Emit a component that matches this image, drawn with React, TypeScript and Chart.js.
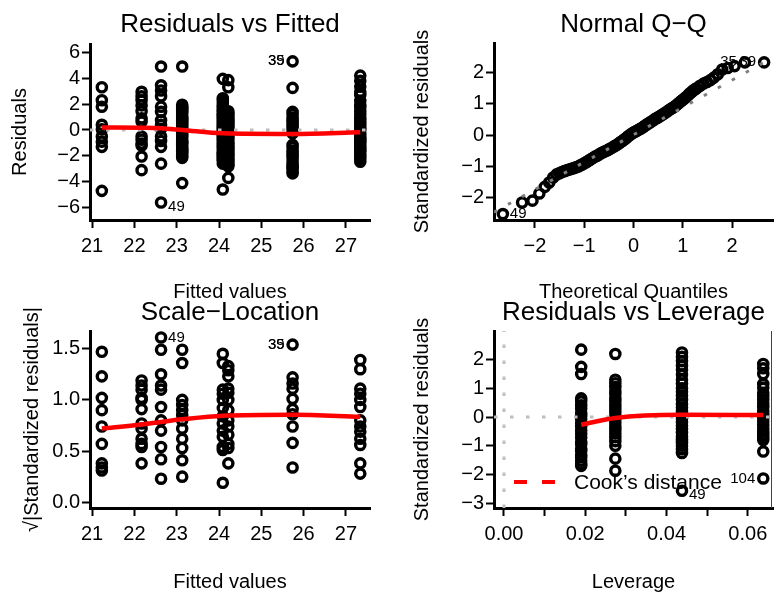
import React, { useEffect, useRef } from "react";
import { Chart, registerables } from "chart.js";

Chart.register(...registerables);

const FONT = '"Liberation Sans", Arial, Helvetica, sans-serif';
Chart.defaults.font.family = FONT;
Chart.defaults.color = "#000";

// ---------- Panel 1: Residuals vs Fitted ----------
const RVF_FITTED = [21.23, 22.17, 22.63, 23.13, 24.09, 24.22, 25.74, 27.34];
const RVF_RESID_2123 = [3.3, 2.3, 1.8, 0.4, 0.05, -0.5, -0.9, -1.3, -4.7];
const RVF_RESID_2217 = [2.95, 2.6, 2.3, 1.9, 1.45, 0.9, 0.65, -0.5, -0.75, -1.05, -1.2, -2.05, -3.1];
const RVF_RESID_2263 = [4.9, 3.45, 3.05, 2.6, 1.8, 1.4, 0.75, 0.4, 0.1, -0.5, -0.85, -1.3, -2.6, -5.6];
const RVF_RESID_2313 = [4.9, 1.95, 1.8, 1.7, 1.55, 1.45, 1.3, 1.1, 0.95, 0.85, 0.7, 0.6, 0.45, 0.35, 0.2, 0.05, -0.1, -0.2, -0.35, -0.45, -0.6, -0.8, -0.9, -1.0, -1.15, -1.3, -1.45, -1.55, -1.7, -1.8, -2.0, -2.15, -4.1];
const RVF_RESID_2409 = [3.95, 2.45, 2.3, 2.1, 1.9, 1.75, 1.55, 1.4, 1.25, 1.15, 1.0, 0.9, 0.75, 0.6, 0.45, 0.3, 0.15, 0.05, -0.1, -0.25, -0.4, -0.5, -0.65, -0.75, -0.9, -1.05, -1.2, -1.3, -1.45, -1.6, -1.75, -1.85, -2.0, -2.1, -2.25, -2.4, -2.6, -4.6];
const RVF_RESID_2422 = [3.85, 3.3, 1.45, 1.3, 1.2, 1.05, 0.95, 0.8, 0.7, 0.55, 0.45, 0.3, 0.15, 0.0, -0.1, -0.25, -0.35, -0.5, -0.6, -0.75, -0.9, -1.05, -1.15, -1.3, -1.4, -1.55, -1.7, -1.85, -1.95, -2.1, -2.25, -2.4, -2.55, -2.7, -2.8, -3.7];
const RVF_RESID_2574 = [5.3, 3.25, 1.4, 1.2, 0.95, 0.75, 0.6, 0.4, 0.25, 0.05, -0.25, -1.15, -1.35, -1.6, -1.8, -2.0, -2.2, -2.45, -2.7, -2.85, -3.0, -3.2, -3.35];
const RVF_RESID_2734 = [4.2, 3.8, 3.35, 2.95, 2.7, 2.25, 1.95, 1.75, 1.45, 1.2, 0.95, 0.8, 0.55, 0.4, 0.2, 0.0, -0.3, -0.5, -0.7, -0.85, -1.0, -1.2, -1.35, -1.55, -1.7, -1.9, -2.05, -2.25, -2.45];
const RVF_RESID = [RVF_RESID_2123, RVF_RESID_2217, RVF_RESID_2263, RVF_RESID_2313, RVF_RESID_2409, RVF_RESID_2422, RVF_RESID_2574, RVF_RESID_2734];
const RVF_SMOOTH_X = [21.23, 22.17, 22.63, 23.13, 24.09, 25.74, 27.34];
const RVF_SMOOTH_Y = [0.2, 0.17, 0.13, 0.0, -0.26, -0.31, -0.18];
const RVF_X_RANGE = [20.95, 27.57];
const RVF_Y_RANGE = [-6.95, 6.64];
const RVF_X_TICKS = [21, 22, 23, 24, 25, 26, 27];
const RVF_Y_TICKS = [-6, -4, -2, 0, 2, 4, 6];
const RVF_LABEL_TEXT = ["35", "39", "49"];
const RVF_LABEL_X = [25.74, 25.74, 22.63];
const RVF_LABEL_Y = [5.3, 5.3, -5.6];

// ---------- Panel 2: Normal Q-Q ----------
const QQ_THEORETICAL = [-2.65, -2.26, -2.05, -1.91, -1.8, -1.71, -1.63, -1.56, -1.5, -1.45, -1.41, -1.38, -1.34, -1.3, -1.26, -1.22, -1.18, -1.15, -1.11, -1.08, -1.04, -1.0, -0.96, -0.93, -0.89, -0.86, -0.82, -0.78, -0.74, -0.7, -0.66, -0.62, -0.59, -0.55, -0.51, -0.48, -0.44, -0.4, -0.37, -0.33, -0.29, -0.26, -0.22, -0.19, -0.15, -0.12, -0.08, -0.05, -0.01, 0.02, 0.06, 0.09, 0.13, 0.16, 0.2, 0.23, 0.27, 0.3, 0.34, 0.37, 0.41, 0.44, 0.48, 0.51, 0.55, 0.58, 0.62, 0.65, 0.69, 0.72, 0.76, 0.79, 0.83, 0.86, 0.9, 0.93, 0.97, 1.0, 1.04, 1.07, 1.11, 1.14, 1.18, 1.21, 1.25, 1.28, 1.35, 1.42, 1.49, 1.56, 1.63, 1.71, 1.8, 1.91, 2.05, 2.26, 2.65];
const QQ_STD_RESID = [-2.53, -2.16, -2.1, -1.87, -1.66, -1.52, -1.36, -1.26, -1.22, -1.18, -1.16, -1.14, -1.12, -1.1, -1.08, -1.06, -1.04, -1.02, -1.0, -0.97, -0.94, -0.9, -0.87, -0.84, -0.8, -0.77, -0.73, -0.69, -0.66, -0.62, -0.58, -0.55, -0.53, -0.5, -0.47, -0.44, -0.41, -0.37, -0.34, -0.3, -0.26, -0.22, -0.18, -0.14, -0.1, -0.05, -0.01, 0.03, 0.07, 0.1, 0.13, 0.16, 0.19, 0.22, 0.26, 0.3, 0.34, 0.37, 0.41, 0.44, 0.48, 0.52, 0.55, 0.58, 0.62, 0.65, 0.69, 0.72, 0.76, 0.8, 0.84, 0.87, 0.91, 0.95, 1.0, 1.04, 1.09, 1.13, 1.18, 1.22, 1.28, 1.33, 1.38, 1.43, 1.47, 1.5, 1.58, 1.65, 1.7, 1.76, 1.84, 1.95, 2.1, 2.15, 2.21, 2.33, 2.33];
const QQ_LINE_X = [-2.83, 2.83];
const QQ_LINE_Y = [-2.47, 2.49];
const QQ_X_RANGE = [-2.83, 2.83];
const QQ_Y_RANGE = [-2.72, 2.95];
const QQ_X_TICKS = [-2, -1, 0, 1, 2];
const QQ_Y_TICKS = [-2, -1, 0, 1, 2];
const QQ_LABEL_TEXT = ["49", "35", "39"];
const QQ_LABEL_X = [-2.65, 2.26, 2.65];
const QQ_LABEL_Y = [-2.53, 2.33, 2.33];

// ---------- Panel 3: Scale-Location ----------
const SL_FITTED = [21.23, 22.17, 22.63, 23.13, 24.09, 24.22, 25.74, 27.34];
const SL_ROOT_2123 = [1.47, 1.23, 1.02, 0.9, 0.74, 0.57, 0.38, 0.34, 0.31];
const SL_ROOT_2217 = [1.19, 1.14, 1.1, 1.02, 1.0, 0.91, 0.77, 0.72, 0.62, 0.57, 0.54, 0.38];
const SL_ROOT_2263 = [1.61, 1.49, 1.25, 1.14, 1.1, 0.93, 0.8, 0.7, 0.54, 0.42, 0.23];
const SL_ROOT_2313 = [1.49, 1.36, 1.0, 0.95, 0.9, 0.85, 0.8, 0.72, 0.62, 0.53, 0.41, 0.25];
const SL_ROOT_2409 = [1.45, 1.36, 1.1, 1.06, 1.0, 0.92, 0.84, 0.77, 0.7, 0.64, 0.54, 0.51, 0.19];
const SL_ROOT_2422 = [1.33, 1.29, 1.23, 1.11, 1.07, 1.0, 0.9, 0.8, 0.74, 0.66, 0.57, 0.53, 0.38];
const SL_ROOT_2574 = [1.54, 1.22, 1.16, 1.11, 1.01, 0.91, 0.86, 0.74, 0.58, 0.34];
const SL_ROOT_2734 = [1.39, 1.3, 1.11, 1.06, 1.0, 0.93, 0.8, 0.74, 0.69, 0.62, 0.56, 0.38, 0.28];
const SL_ROOT = [SL_ROOT_2123, SL_ROOT_2217, SL_ROOT_2263, SL_ROOT_2313, SL_ROOT_2409, SL_ROOT_2422, SL_ROOT_2574, SL_ROOT_2734];
const SL_SMOOTH_X = [21.23, 22.17, 22.63, 23.13, 24.09, 25.74, 27.34];
const SL_SMOOTH_Y = [0.72, 0.76, 0.785, 0.81, 0.845, 0.855, 0.835];
const SL_X_RANGE = [20.95, 27.57];
const SL_Y_RANGE = [-0.056, 1.673];
const SL_X_TICKS = [21, 22, 23, 24, 25, 26, 27];
const SL_Y_TICKS = [0, 0.5, 1, 1.5];
const SL_LABEL_TEXT = ["35", "39", "49"];
const SL_LABEL_X = [25.74, 25.74, 22.63];
const SL_LABEL_Y = [1.54, 1.54, 1.61];

// ---------- Panel 4: Residuals vs Leverage ----------
const RL_LEVERAGE = [0.019, 0.0274, 0.0438, 0.0638];
const RL_STD_0190 = [2.35, 1.75, 1.5, 0.65, 0.55, 0.41, 0.3, 0.15, 0.04, -0.08, -0.22, -0.33, -0.47, -0.58, -0.71, -0.86, -0.95, -1.1, -1.18, -1.31, -1.4, -1.52, -1.63, -1.7];
const RL_STD_0274 = [2.2, 1.3, 1.18, 1.05, 0.92, 0.8, 0.66, 0.55, 0.41, 0.3, 0.17, 0.05, -0.08, -0.2, -0.33, -0.45, -0.57, -0.7, -0.84, -1.0, -1.45, -1.87];
const RL_STD_0438 = [2.25, 2.1, 1.95, 1.8, 1.65, 1.48, 1.3, 1.17, 1.0, 0.88, 0.75, 0.6, 0.45, 0.33, 0.2, 0.07, -0.05, -0.18, -0.3, -0.42, -0.55, -0.68, -0.8, -0.9, -1.0, -1.12, -1.25, -2.57];
const RL_STD_0638 = [1.85, 1.7, 1.5, 1.15, 1.02, 0.85, 0.73, 0.6, 0.47, 0.35, 0.22, 0.1, -0.03, -0.15, -0.28, -0.4, -0.5, -0.6, -0.7, -0.8, -1.2, -2.14];
const RL_STD = [RL_STD_0190, RL_STD_0274, RL_STD_0438, RL_STD_0638];
const RL_SMOOTH_X = [0.019, 0.0274, 0.0438, 0.0638];
const RL_SMOOTH_Y = [-0.27, -0.03, 0.08, 0.07];
const RL_X_RANGE = [-0.00246, 0.0662];
const RL_Y_RANGE = [-3.17, 3.0];
const RL_X_TICKS = [0, 0.01, 0.02, 0.03, 0.04, 0.05, 0.06];
const RL_X_TICK_LABELS = ["0.00", "", "0.02", "", "0.04", "", "0.06"];
const RL_Y_TICKS = [-3, -2, -1, 0, 1, 2];
const RL_LABEL_TEXT = ["49", "104"];
const RL_LABEL_X = [0.0438, 0.0638];
const RL_LABEL_Y = [-2.57, -2.14];
const RL_LEGEND_TEXT = "Cook\u2019s distance";

// ---------- helpers ----------
const minus = (s: string) => s.replace("-", "\u2212");

const pts = (xs: number[], ys: number[]) => xs.map((x, i) => ({ x, y: ys[i] }));
const groupPts = (xs: number[], groups: number[][]) =>
  xs.flatMap((x, i) => groups[i].map((y) => ({ x, y })));

const pointDs = (data: any[]) => ({
  data,
  showLine: false,
  pointStyle: "circle",
  pointRadius: 4.6,
  pointHoverRadius: 4.6,
  pointBorderWidth: 3.4,
  pointBorderColor: "#000",
  pointBackgroundColor: "rgba(0,0,0,0)",
  order: 3,
});
const smoothDs = (data: any[]) => ({
  data,
  showLine: true,
  borderColor: "#ff0000",
  borderWidth: 4.5,
  pointRadius: 0,
  cubicInterpolationMode: "monotone",
  order: 0,
});
const dottedDs = (data: any[], color: string) => ({
  data,
  showLine: true,
  borderColor: color,
  borderWidth: 3,
  borderDash: [3.5, 12.5],
  pointRadius: 0,
  order: 1,
});

type Box = { left: number; top: number; width: number; height: number };
type LabelSpec = { text: string; x: number; y: number; side: "left" | "right"; dy: number };

type PanelSpec = {
  box: Box;
  padRight: number;
  yAxisW: number;
  xAxisH: number;
  title: string;
  titlePad: { top: number; bottom: number };
  xTitle: string;
  yTitle: string;
  yTitlePadTop: number;
  xTitlePadBottom: number;
  xRange: number[];
  yRange: number[];
  xTicks: number[];
  yTicks: number[];
  xFmt: (v: number, i: number) => string;
  yFmt: (v: number, i: number) => string;
  datasets: any[];
  labels: LabelSpec[];
  extra?: (chart: any) => void;
};

function axis(pos: "left" | "bottom", range: number[], ticks: number[], fmt: any, size: number, title: string, titlePad: any, tickPad: number) {
  return {
    type: "linear",
    position: pos,
    min: range[0],
    max: range[1],
    afterBuildTicks: (s: any) => {
      s.ticks = ticks.map((v) => ({ value: v }));
    },
    afterFit: (s: any) => {
      if (pos === "left") s.width = size;
      else s.height = size;
      s.paddingLeft = 0;
      s.paddingRight = 0;
      s.paddingTop = 0;
      s.paddingBottom = 0;
    },
    grid: { display: true, drawOnChartArea: false, drawTicks: true, tickLength: 8, tickWidth: 2, tickColor: "#000" },
    border: { display: true, width: 3, color: "#000" },
    ticks: {
      autoSkip: false,
      maxRotation: 0,
      minRotation: 0,
      padding: tickPad,
      color: "#000",
      font: { family: FONT, size: 20 },
      callback: (v: number, i: number) => fmt(v, i),
    },
    title: { display: true, text: title, color: "#000", font: { family: FONT, size: 20, lineHeight: 1 }, padding: titlePad },
  };
}

function annotPlugin(labels: LabelSpec[], extra?: (chart: any) => void) {
  return {
    id: "annot",
    afterDatasetsDraw(chart: any) {
      const { ctx } = chart;
      const xs = chart.scales.x;
      const ys = chart.scales.y;
      ctx.save();
      ctx.font = `15px ${FONT}`;
      ctx.fillStyle = "#000";
      ctx.textBaseline = "middle";
      for (const l of labels) {
        const px = xs.getPixelForValue(l.x);
        const py = ys.getPixelForValue(l.y) + l.dy;
        if (l.side === "left") {
          ctx.textAlign = "right";
          ctx.fillText(l.text, px - 8, py);
        } else {
          ctx.textAlign = "left";
          ctx.fillText(l.text, px + 7, py);
        }
      }
      ctx.restore();
      if (extra) extra(chart);
    },
  };
}

function buildConfig(p: PanelSpec) {
  return {
    type: "scatter",
    data: { datasets: p.datasets },
    options: {
      animation: false,
      responsive: false,
      devicePixelRatio: 1,
      events: [],
      layout: { autoPadding: false, padding: { left: 0, right: p.padRight, top: 0, bottom: 0 } },
      plugins: {
        legend: { display: false },
        tooltip: { enabled: false },
        title: {
          display: true,
          text: p.title,
          fullSize: false,
          color: "#000",
          font: { family: FONT, size: 26, weight: "normal", lineHeight: 1 },
          padding: p.titlePad,
        },
      },
      scales: {
        x: axis("bottom", p.xRange, p.xTicks, p.xFmt, p.xAxisH, p.xTitle, { top: 0, bottom: p.xTitlePadBottom }, 6),
        y: axis("left", p.yRange, p.yTicks, p.yFmt, p.yAxisW, p.yTitle, { top: p.yTitlePadTop, bottom: 0 }, 2),
      },
    },
    plugins: [annotPlugin(p.labels, p.extra)],
  };
}

const mkLabels = (t: string[], xs: number[], ys: number[], sides: ("left" | "right")[], dys: number[]): LabelSpec[] =>
  t.map((text, i) => ({ text, x: xs[i], y: ys[i], side: sides[i], dy: dys[i] }));

const intFmt = (v: number) => minus(String(v));

const PANELS: PanelSpec[] = [
  {
    box: { left: 0, top: 0, width: 387, height: 305 },
    padRight: 17,
    yAxisW: 90,
    xAxisH: 85,
    title: "Residuals vs Fitted",
    titlePad: { top: 12, bottom: 6 },
    xTitle: "Fitted values",
    yTitle: "Residuals",
    yTitlePadTop: 10,
    xTitlePadBottom: 3,
    xRange: RVF_X_RANGE,
    yRange: RVF_Y_RANGE,
    xTicks: RVF_X_TICKS,
    yTicks: RVF_Y_TICKS,
    xFmt: intFmt,
    yFmt: intFmt,
    datasets: [
      smoothDs(pts(RVF_SMOOTH_X, RVF_SMOOTH_Y)),
      dottedDs(pts(RVF_X_RANGE, [0, 0]), "#bebebe"),
      pointDs(groupPts(RVF_FITTED, RVF_RESID)),
    ],
    labels: mkLabels(RVF_LABEL_TEXT, RVF_LABEL_X, RVF_LABEL_Y, ["left", "left", "right"], [0, 0, 4]),
  },
  {
    box: { left: 387, top: 0, width: 387, height: 305 },
    padRight: 1,
    yAxisW: 107,
    xAxisH: 85,
    title: "Normal Q\u2212Q",
    titlePad: { top: 12, bottom: 5 },
    xTitle: "Theoretical Quantiles",
    yTitle: "Standardized residuals",
    yTitlePadTop: 25,
    xTitlePadBottom: 3,
    xRange: QQ_X_RANGE,
    yRange: QQ_Y_RANGE,
    xTicks: QQ_X_TICKS,
    yTicks: QQ_Y_TICKS,
    xFmt: intFmt,
    yFmt: intFmt,
    datasets: [
      dottedDs(pts(QQ_LINE_X, QQ_LINE_Y), "#7f7f7f"),
      pointDs(pts(QQ_THEORETICAL, QQ_STD_RESID)),
    ],
    labels: mkLabels(QQ_LABEL_TEXT, QQ_LABEL_X, QQ_LABEL_Y, ["right", "left", "left"], [0, 0, 0]),
  },
  {
    box: { left: 0, top: 290, width: 387, height: 302 },
    padRight: 17,
    yAxisW: 90,
    xAxisH: 84,
    title: "Scale\u2212Location",
    titlePad: { top: 10, bottom: 5 },
    xTitle: "Fitted values",
    yTitle: "\u221A|Standardized residuals|",
    yTitlePadTop: 22,
    xTitlePadBottom: 0,
    xRange: SL_X_RANGE,
    yRange: SL_Y_RANGE,
    xTicks: SL_X_TICKS,
    yTicks: SL_Y_TICKS,
    xFmt: intFmt,
    yFmt: (v: number) => v.toFixed(1),
    datasets: [
      smoothDs(pts(SL_SMOOTH_X, SL_SMOOTH_Y)),
      pointDs(groupPts(SL_FITTED, SL_ROOT)),
    ],
    labels: mkLabels(SL_LABEL_TEXT, SL_LABEL_X, SL_LABEL_Y, ["left", "left", "right"], [0, 0, 0]),
  },
  {
    box: { left: 387, top: 290, width: 387, height: 302 },
    padRight: 1,
    yAxisW: 107,
    xAxisH: 84,
    title: "Residuals vs Leverage",
    titlePad: { top: 10, bottom: 5 },
    xTitle: "Leverage",
    yTitle: "Standardized residuals",
    yTitlePadTop: 25,
    xTitlePadBottom: 0,
    xRange: RL_X_RANGE,
    yRange: RL_Y_RANGE,
    xTicks: RL_X_TICKS,
    yTicks: RL_Y_TICKS,
    xFmt: (_v: number, i: number) => RL_X_TICK_LABELS[i],
    yFmt: intFmt,
    datasets: [
      smoothDs(pts(RL_SMOOTH_X, RL_SMOOTH_Y)),
      dottedDs(pts(RL_X_RANGE, [0, 0]), "#bebebe"),
      dottedDs(pts([0, 0], RL_Y_RANGE), "#bebebe"),
      pointDs(groupPts(RL_LEVERAGE, RL_STD)),
    ],
    labels: mkLabels(RL_LABEL_TEXT, RL_LABEL_X, RL_LABEL_Y, ["right", "left"], [4, 0]),
    extra: (chart: any) => {
      const { ctx, chartArea } = chart;
      ctx.save();
      // thin right frame edge
      ctx.strokeStyle = "#444";
      ctx.lineWidth = 1;
      ctx.beginPath();
      ctx.moveTo(chartArea.right - 1.5, chartArea.top);
      ctx.lineTo(chartArea.right - 1.5, chartArea.bottom);
      ctx.stroke();
      // legend
      const y = chartArea.bottom - 26;
      ctx.strokeStyle = "#ff0000";
      ctx.lineWidth = 4;
      ctx.setLineDash([13, 15]);
      ctx.beginPath();
      ctx.moveTo(chartArea.left + 20, y);
      ctx.lineTo(chartArea.left + 61, y);
      ctx.stroke();
      ctx.setLineDash([]);
      ctx.fillStyle = "#000";
      ctx.font = `21px ${FONT}`;
      ctx.textAlign = "left";
      ctx.textBaseline = "middle";
      ctx.fillText(RL_LEGEND_TEXT, chartArea.left + 80, y + 1);
      ctx.restore();
    },
  },
];

function Panel({ spec }: { spec: PanelSpec }) {
  const ref = useRef<HTMLCanvasElement | null>(null);
  useEffect(() => {
    if (!ref.current) return;
    const chart = new Chart(ref.current, buildConfig(spec) as any);
    return () => chart.destroy();
  }, [spec]);
  const b = spec.box;
  return (
    <canvas
      ref={ref}
      width={b.width}
      height={b.height}
      style={{ position: "absolute", left: b.left, top: b.top, width: b.width, height: b.height }}
    />
  );
}

export default function App() {
  return (
    <div style={{ position: "fixed", left: 0, top: 0, width: 774, height: 592, overflow: "hidden", background: "#fff" }}>
      {PANELS.map((p, i) => (
        <Panel key={i} spec={p} />
      ))}
    </div>
  );
}
